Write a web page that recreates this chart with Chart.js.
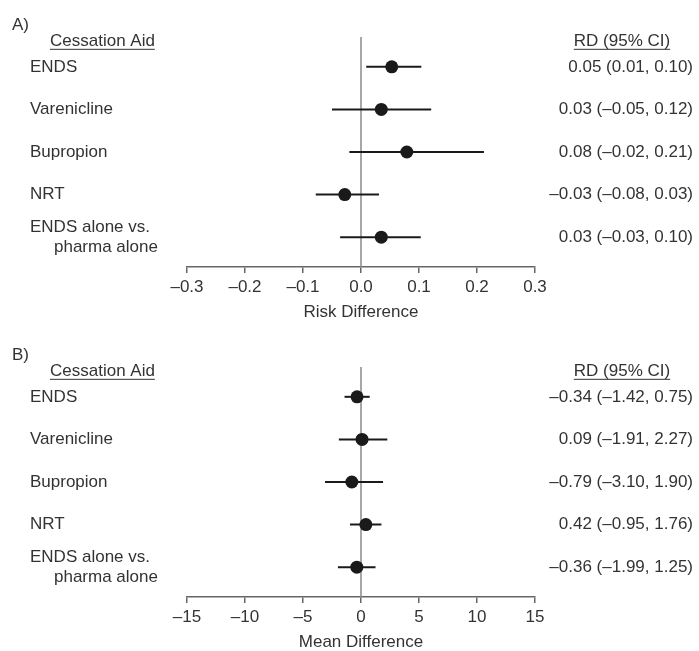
<!DOCTYPE html>
<html>
<head>
<meta charset="utf-8">
<script src="https://cdn.jsdelivr.net/npm/chart.js@4.4.1/dist/chart.umd.min.js"></script>
<style>
    html, body { margin: 0; padding: 0; background: #fff; overflow: hidden; }
    #wrap { position: relative; width: 699px; height: 651px; overflow: hidden; }
    canvas { position: absolute; left: 0; }
</style>
</head>
<body>
<div id="wrap">
    <canvas id="chartA" width="699" height="330" style="top:0px"></canvas>
    <canvas id="chartB" width="699" height="330" style="top:330px"></canvas>
</div>
<script>
// Nhãn các nhóm hỗ trợ cai thuốc
const aidLabels = [['ENDS'], ['Varenicline'], ['Bupropion'], ['NRT'], ['ENDS alone vs.', 'pharma alone']];

// A) Risk difference
const rdEst = [0.053, 0.035, 0.079, -0.028, 0.035];
const rdLow = [0.009, -0.05, -0.02, -0.078, -0.036];
const rdHigh = [0.104, 0.121, 0.212, 0.031, 0.103];
const rdText = ['0.05 (0.01, 0.10)', '0.03 (\u20130.05, 0.12)', '0.08 (\u20130.02, 0.21)', '\u20130.03 (\u20130.08, 0.03)', '0.03 (\u20130.03, 0.10)'];
const rdTicks = ['\u20130.3', '\u20130.2', '\u20130.1', '0.0', '0.1', '0.2', '0.3'];

// B) Mean difference
const mdEst = [-0.34, 0.09, -0.79, 0.42, -0.36];
const mdLow = [-1.42, -1.91, -3.10, -0.95, -1.99];
const mdHigh = [0.75, 2.27, 1.90, 1.76, 1.25];
const mdText = ['\u20130.34 (\u20131.42, 0.75)', '0.09 (\u20131.91, 2.27)', '\u20130.79 (\u20133.10, 1.90)', '0.42 (\u20130.95, 1.76)', '\u20130.36 (\u20131.99, 1.25)'];
const mdTicks = ['\u201315', '\u201310', '\u20135', '0', '5', '10', '15'];

const FONT_FAMILY = "'Liberation Sans', Arial, Helvetica, sans-serif";
const TEXT_COLOR = '#333';
Chart.defaults.font.family = FONT_FAMILY;
Chart.defaults.font.size = 17;
Chart.defaults.color = TEXT_COLOR;

// Vẽ chữ: nhãn bên trái, tiêu đề cột, khoảng tin cậy bên phải
const forestText = {
    id: 'forestText',
    afterDraw(chart, args, opts) {
        const ctx = chart.ctx;
        const y = chart.scales.y;
        const y0 = y.getPixelForValue(0);
        ctx.save();
        ctx.fillStyle = TEXT_COLOR;
        ctx.strokeStyle = TEXT_COLOR;
        ctx.lineWidth = 1;
        ctx.font = '17px ' + FONT_FAMILY;
        ctx.textBaseline = 'middle';

        ctx.textAlign = 'left';
        ctx.fillText(opts.panel, 12, y0 - 42);

        const hy = y0 - 26;
        ctx.fillText('Cessation Aid', 50, hy);
        let w = ctx.measureText('Cessation Aid').width;
        ctx.beginPath(); ctx.moveTo(50, hy + 8.5); ctx.lineTo(50 + w, hy + 8.5); ctx.stroke();

        ctx.textAlign = 'center';
        ctx.fillText('RD (95% CI)', 622, hy);
        w = ctx.measureText('RD (95% CI)').width;
        ctx.beginPath(); ctx.moveTo(622 - w / 2, hy + 8.5); ctx.lineTo(622 + w / 2, hy + 8.5); ctx.stroke();

        aidLabels.forEach((lines, i) => {
            const py = y.getPixelForValue(i);
            ctx.textAlign = 'left';
            if (lines.length === 1) {
                ctx.fillText(lines[0], 30, py);
            } else {
                ctx.fillText(lines[0], 30, py - 9.5);
                ctx.fillText(lines[1], 54, py + 10.5);
            }
            ctx.textAlign = 'right';
            ctx.fillText(opts.ci[i], 693, py);
        });
        ctx.restore();
    }
};

function buildForest(canvasId, est, low, high, ciText, tickLabels, lim, step, axisTitle, panel) {
    const datasets = [];
    // Đường tham chiếu tại 0 (vẽ dưới cùng)
    datasets.push({
        type: 'line', order: 3,
        data: [{ x: 0, y: -0.7 }, { x: 0, y: 4.7 }],
        borderColor: '#8a8a8a', borderWidth: 1.5, pointRadius: 0
    });
    est.forEach((v, i) => {
        datasets.push({
            type: 'line', order: 2,
            data: [{ x: low[i], y: i }, { x: high[i], y: i }],
            borderColor: '#1a1a1a', borderWidth: 2, pointRadius: 0
        });
    });
    datasets.push({
        type: 'scatter', order: 1,
        data: est.map((v, i) => ({ x: v, y: i })),
        pointRadius: 6.5, backgroundColor: '#1a1a1a', borderWidth: 0
    });

    return new Chart(document.getElementById(canvasId), {
        type: 'scatter',
        data: { datasets: datasets },
        options: {
            responsive: false,
            animation: false,
            layout: { padding: { left: 187, right: 164, top: 37, bottom: 0 } },
            plugins: {
                legend: { display: false },
                tooltip: { enabled: false },
                forestText: { panel: panel, ci: ciText }
            },
            scales: {
                x: {
                    type: 'linear', min: -lim, max: lim,
                    ticks: { stepSize: step, padding: 4, color: TEXT_COLOR, callback: (v, i) => tickLabels[i] },
                    grid: { drawOnChartArea: false, tickLength: 6, color: '#666', lineWidth: 1.5 },
                    border: { color: '#666', width: 1.5 },
                    title: { display: true, text: axisTitle, color: TEXT_COLOR, padding: { top: 0, bottom: 7 } },
                    afterFit: (s) => { s.height = 63; }
                },
                y: { type: 'linear', display: false, reverse: true, min: -0.7, max: 4.7 }
            }
        },
        plugins: [forestText]
    });
}

buildForest('chartA', rdEst, rdLow, rdHigh, rdText, rdTicks, 0.3, 0.1, 'Risk Difference', 'A)');
buildForest('chartB', mdEst, mdLow, mdHigh, mdText, mdTicks, 15, 5, 'Mean Difference', 'B)');
</script>
</body>
</html>
